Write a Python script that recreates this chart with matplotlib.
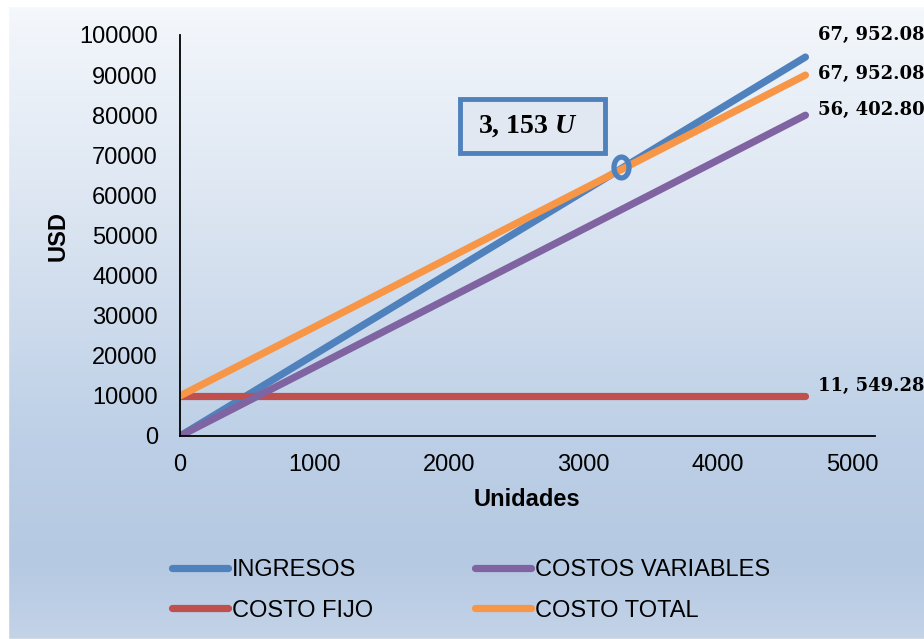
import numpy as np
import matplotlib.pyplot as plt
from matplotlib.patches import Rectangle
from matplotlib.path import Path
from matplotlib.colors import LinearSegmentedColormap

# data
unidades = [0, 4650]
ingresos = [0, 94500]
costos_variables = [0, 80000]
costo_fijo = [10000, 10000]
costo_total = [10000, 90000]

be_x = [3280]
be_y = [67100]
be_label = '3, 153 $U$'

end_labels = ['67, 952.08', '67, 952.08', '56, 402.80', '11, 549.28']
end_offsets = [(13, 22), (13, 1), (13, 5), (13, 10)]  # pixels

x_ticks = [0, 1000, 2000, 3000, 4000, 5000]
y_ticks = list(range(0, 100001, 10000))

c_blue = '#4F81BD'
c_red = '#C0504D'
c_purple = '#8064A2'
c_orange = '#F79646'

W, H = 924, 639
plt.rcParams['font.family'] = ['Liberation Sans', 'DejaVu Sans']
plt.rcParams['mathtext.fontset'] = 'custom'
plt.rcParams['mathtext.it'] = 'Liberation Serif:italic:bold'
fig = plt.figure(figsize=(W / 100, H / 100), dpi=100)

# background gradient
bg = fig.add_axes([0, 0, 1, 1], zorder=-10)
cmap = LinearSegmentedColormap.from_list('bg', [
    (0.0, '#f5f8fc'), (0.35, '#dae4f1'), (0.7, '#bccfe6'),
    (0.88, '#b5c9e2'), (1.0, '#c3d3e8')])
grad = np.linspace(0, 1, 256).reshape(-1, 1)
bg.imshow(grad, aspect='auto', cmap=cmap, extent=[0, 1, 0, 1], origin='upper')
bg.add_patch(Rectangle((8 / W, 0), 1, 1 - 6 / H, fill=False, ec='#d5dde8', lw=1.2))
fig.patches.append(Rectangle((0, 1 - 6 / H), 1, 6 / H, transform=fig.transFigure, color='white', zorder=-5))
fig.patches.append(Rectangle((0, 0), 8 / W, 1, transform=fig.transFigure, color='white', zorder=-5))
bg.set_axis_off()

left, right, top, bottom = 180, 875, 35, 436
ax = fig.add_axes([left / W, 1 - bottom / H, (right - left) / W, (bottom - top) / H])
ax.patch.set_alpha(0)

lw = 5.2
ax.plot(unidades, ingresos, color=c_blue, lw=lw, solid_capstyle='round', label='INGRESOS')
ax.plot(unidades, costo_fijo, color=c_red, lw=lw, solid_capstyle='round', label='COSTO FIJO')
ax.plot(unidades, costos_variables, color=c_purple, lw=lw, solid_capstyle='round', label='COSTOS VARIABLES')
ax.plot(unidades, costo_total, color=c_orange, lw=lw, solid_capstyle='round', label='COSTO TOTAL')

# breakeven ring
t = np.linspace(0, 2 * np.pi, 60)
ring = Path(np.column_stack([0.72 * np.cos(t), np.sin(t)]))
ax.plot(be_x, be_y, marker=ring, ms=15, mfc='none', mec=c_blue, mew=3.8, zorder=5)

# labels at line ends
ends = [ingresos[-1], costo_total[-1], costos_variables[-1], costo_fijo[-1]]
for lab, yv, off in zip(end_labels, ends, end_offsets):
    ax.annotate(lab, (unidades[-1], yv), xytext=off, textcoords='offset pixels',
                ha='left', va='center', fontsize=13, fontweight='bold', family='DejaVu Serif')

ax.set_xlim(0, (right - left) / 134.5 * 1000)
ax.set_ylim(0, 100000)
ax.set_xticks(x_ticks)
ax.set_yticks(y_ticks)
ax.tick_params(length=0, labelsize=17)
ax.tick_params(axis='y', pad=16)
ax.tick_params(axis='x', pad=13)
for s in ['top', 'right']:
    ax.spines[s].set_visible(False)
for s in ['left', 'bottom']:
    ax.spines[s].set_linewidth(1.3)

fig.text(527 / W, 1 - 500 / H, 'Unidades', ha='center', va='center', fontsize=17, fontweight='bold')
fig.text(58 / W, 1 - 236 / H, 'USD', ha='center', va='center', rotation=90, fontsize=17, fontweight='bold')

# breakeven box
fig.patches.append(Rectangle((459.5 / W, 1 - 152.5 / H), 145 / W, 54 / H, transform=fig.transFigure,
                             fc='#e1e8f2', ec=c_blue, lw=3.5, zorder=3))
fig.text(528 / W, 1 - 126 / H, be_label, ha='center', va='center', fontsize=20,
         fontweight='bold', family='Liberation Serif', zorder=4)

handles, labels = ax.get_legend_handles_labels()
fig.legend(handles, labels, loc='upper left', bbox_to_anchor=(160 / W, 1 - 547 / H), ncol=2,
           frameon=False, fontsize=17, handlelength=2.4, handletextpad=0.15,
           columnspacing=4.3, labelspacing=0.8, borderpad=0)

fig.savefig('out.png', dpi=100)
